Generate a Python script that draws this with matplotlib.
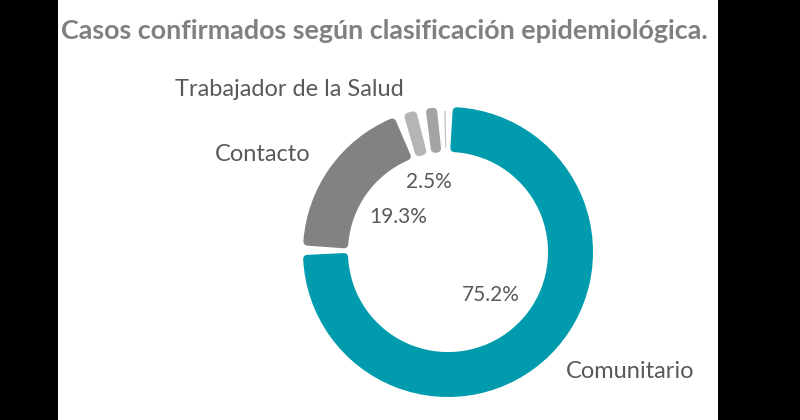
import matplotlib.pyplot as plt
import numpy as np

# data
categories = ["Comunitario", "Contacto", "Trabajador de la Salud", "Otro", "Sin dato"]
values = [75.2, 19.3, 2.5, 2.3, 0.7]
show_label = [True, True, True, False, False]
show_pct = [True, True, True, False, False]
colors = ["#009cad", "#828282", "#b5b5b5", "#a3a3a3", "#c4c4c4"]
pct_dist = [0.42, 0.42, 0.50, 0.45, 0.45]

title = "Casos confirmados según clasificación epidemiológica."

W, H = 800, 420
fig = plt.figure(figsize=(W / 100, H / 100), dpi=100)
fig.patch.set_facecolor("black")

# white panel between the black side bars
bg = fig.add_axes([58 / W, 0, 660 / W, 1])
bg.set_facecolor("white")
bg.set_xticks([])
bg.set_yticks([])
for s in bg.spines.values():
    s.set_visible(False)

fig.text(61 / W, 1 - 31 / H, title, ha="left", va="center",
         fontsize=19.4, fontweight="bold", color="#808080", family="Lato")

# donut axes: center (448, 252) px, outer radius 145 px
cx, cy, R = 448, 252, 145
ax = fig.add_axes([(cx - R) / W, (H - cy - R) / H, 2 * R / W, 2 * R / H])

labels = [c if s else "" for c, s in zip(categories, show_label)]
wedges, texts = ax.pie(values, labels=labels, colors=colors, startangle=90,
                       counterclock=False, radius=1, labeldistance=1.16,
                       textprops=dict(fontsize=17, color="#595959", family="Lato"),
                       wedgeprops=dict(width=0.31))
ax.set_xlim(-1, 1)
ax.set_ylim(-1, 1)
ax.set_aspect("equal")
ax.axis("off")

px = 1 / R          # one pixel in data units
ring = 0.31
h = 4 * px          # half stroke -> rounded corners
gap = 7 * px        # visible gap between slices
for w, c in zip(wedges, colors):
    t1, t2 = w.theta1, w.theta2
    rmid = 1 - ring / 2
    shrink = np.degrees((gap / 2 + h) / rmid)
    span = t2 - t1
    if span - 2 * shrink < 0.6:
        # too thin for rounded corners: draw as a hairline
        m = (t1 + t2) / 2
        w.set_theta1(m - 0.3)
        w.set_theta2(m + 0.3)
        w.set_radius(1 - h)
        w.set_width(ring - 2 * h)
        w.set_linewidth(0)
        continue
    w.set_theta1(t1 + shrink)
    w.set_theta2(t2 - shrink)
    w.set_radius(1 - h)
    w.set_width(ring - 2 * h)
    w.set_edgecolor(c)
    w.set_linewidth(2 * h * R * 0.72)
    w.set_joinstyle("round")

# percentage labels inside the hole
for w, v, s, d in zip(wedges, values, show_pct, pct_dist):
    if not s:
        continue
    m = np.radians((w.theta1 + w.theta2) / 2)
    ax.text(d * np.cos(m), d * np.sin(m), f"{v}%", ha="center", va="center",
            fontsize=15, color="#595959", family="Lato")

fig.savefig("out.png", dpi=100, facecolor=fig.get_facecolor())
